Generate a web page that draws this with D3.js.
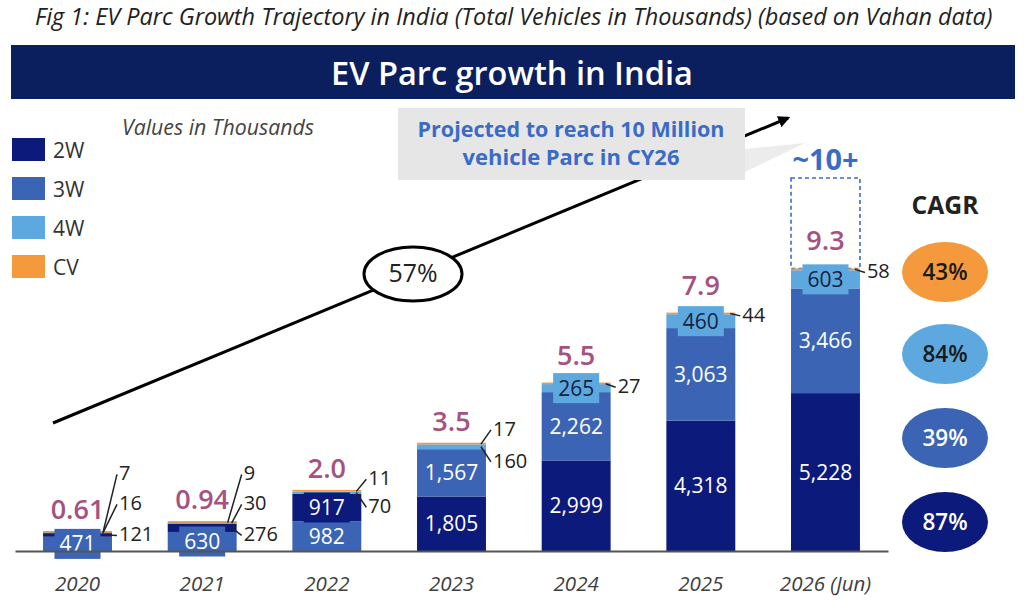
<!DOCTYPE html>
<html lang="en">
<head>
    <meta charset="utf-8">
    <title>EV Parc growth in India</title>
    <script type="text/javascript" src="https://d3js.org/d3.v7.min.js"></script>
    <style type="text/css">
        body { margin: 0; background: #fff; }
        text { font-family: "Open Sans", "Noto Sans", sans-serif; }
    </style>
</head>
<body>
<svg width="1024" height="603"></svg>
<script type="text/javascript">

    // data (thousands of vehicles)
    const years = ["2020", "2021", "2022", "2023", "2024", "2025", "2026 (Jun)"];
    const categories = ["2W", "3W", "4W", "CV"];
    const twoW   = [121, 276, 917, 1805, 2999, 4318, 5228];
    const threeW = [471, 630, 982, 1567, 2262, 3063, 3466];
    const fourW  = [16, 30, 70, 160, 265, 460, 603];
    const cv     = [7, 9, 11, 17, 27, 44, 58];
    const totalLabels = ["0.61", "0.94", "2.0", "3.5", "5.5", "7.9", "9.3"]; // millions
    const projectedLabel = "~10+";
    const projectedTop = 12350;
    const overallCagr = "57%";
    const cagrCats = ["CV", "4W", "3W", "2W"];
    const cagrValues = ["43%", "84%", "39%", "87%"];

    // which segment sits at the bottom changes after 2022
    const stackOrder = years.map((y, i) => i < 3 ? ["3W", "2W", "4W", "CV"] : ["2W", "3W", "4W", "CV"]);
    // segments whose value is written outside the bar
    const outsideCats = [["2W", "4W", "CV"], ["2W", "4W", "CV"], ["4W", "CV"], ["4W", "CV"], ["CV"], ["CV"], ["CV"]];
    const calloutDy   = [[9, -22, -52], [19, -12, -42], [22, -6], [24, -8], [10], [9], [10]];

    const seriesByCat = {"2W": twoW, "3W": threeW, "4W": fourW, "CV": cv};
    const colors = {"2W": "#0c1a7c", "3W": "#3b65b4", "4W": "#5ca8df", "CV": "#f4993c"};
    const labelInk = {"2W": "#fff", "3W": "#fff", "4W": "#15233f", "CV": "#222"};

    const svg = d3.select("svg");
    const fmt = d3.format(",");

    function fit(sel, w) {
        const cur = sel.node().getComputedTextLength();
        const fs = parseFloat(sel.attr("font-size"));
        sel.attr("font-size", fs * w / cur);
        return sel;
    }

    // caption + banner
    fit(svg.append("text").attr("x", 35).attr("y", 25)
        .attr("font-size", 19).attr("font-style", "italic").attr("fill", "#222")
        .text("Fig 1: EV Parc Growth Trajectory in India (Total Vehicles in Thousands) (based on Vahan data)"), 958);

    svg.append("rect").attr("x", 11).attr("y", 45).attr("width", 1004).attr("height", 54)
        .attr("fill", "#0b1f5e");
    fit(svg.append("text").attr("x", 512).attr("y", 85).attr("text-anchor", "middle")
        .attr("font-size", 31).attr("font-weight", 600).attr("fill", "#fff")
        .text("EV Parc growth in India"), 362);

    // legend
    const leg = svg.append("g").selectAll("g").data(categories).join("g")
        .attr("transform", (d, i) => `translate(12,${138 + i * 39})`);
    leg.append("rect").attr("width", 33).attr("height", 23).attr("fill", d => colors[d]);
    leg.append("text").attr("x", 41).attr("y", 20).attr("font-size", 21).attr("fill", "#333").text(d => d);

    fit(svg.append("text").attr("x", 122).attr("y", 135)
        .attr("font-size", 17).attr("font-style", "italic").attr("fill", "#444")
        .text("Values in Thousands"), 192);

    // scales
    const x = d3.scaleBand().domain(years).range([15, 888]).paddingInner(0.447).paddingOuter(0.225);
    const y = d3.scaleLinear().domain([0, 10000]).range([551, 249]);

    // trend arrow with overall CAGR
    svg.append("defs").append("marker").attr("id", "arr")
        .attr("viewBox", "0 0 10 10").attr("refX", 8).attr("refY", 5)
        .attr("markerWidth", 4).attr("markerHeight", 4).attr("orient", "auto")
        .append("path").attr("d", "M0,0L10,5L0,10z").attr("fill", "#000");
    svg.append("line").attr("x1", 53).attr("y1", 423).attr("x2", 788).attr("y2", 118)
        .attr("stroke", "#000").attr("stroke-width", 3).attr("marker-end", "url(#arr)");
    svg.append("ellipse").attr("cx", 413).attr("cy", 274).attr("rx", 49).attr("ry", 27)
        .attr("fill", "#fff").attr("stroke", "#000").attr("stroke-width", 3);
    fit(svg.append("text").attr("x", 413).attr("y", 282).attr("text-anchor", "middle")
        .attr("font-size", 22).attr("fill", "#222").text(overallCagr), 49);

    // callout box
    svg.append("path").attr("d", "M745,149L805,143L745,172Z").attr("fill", "#ececec");
    svg.append("rect").attr("x", 398).attr("y", 108).attr("width", 347).attr("height", 72).attr("fill", "#e6e6e6");
    fit(svg.append("text").attr("x", 571).attr("y", 137).attr("text-anchor", "middle")
        .attr("font-size", 19).attr("font-weight", 700).attr("fill", "#3a6cc6")
        .text("Projected to reach 10 Million"), 307);
    fit(svg.append("text").attr("x", 571).attr("y", 165).attr("text-anchor", "middle")
        .attr("font-size", 19).attr("font-weight", 700).attr("fill", "#3a6cc6")
        .text("vehicle Parc in CY26"), 217);

    // stacked segments
    const segs = years.flatMap((yr, i) => {
        let acc = 0;
        return stackOrder[i].map(cat => {
            const v = seriesByCat[cat][i];
            const s = {yr, i, cat, v, y0: acc, y1: acc + v};
            acc += v;
            return s;
        });
    });
    const totals = years.map((yr, i) => categories.reduce((s, c) => s + seriesByCat[c][i], 0));

    // projected dashed box on the last bar
    const last = years[years.length - 1];
    svg.append("rect").attr("x", x(last)).attr("y", y(projectedTop))
        .attr("width", x.bandwidth()).attr("height", y(totals[totals.length - 1]) - y(projectedTop))
        .attr("fill", "none").attr("stroke", "#3a6cc6").attr("stroke-width", 1.6).attr("stroke-dasharray", "4,3");
    fit(svg.append("text").attr("x", x(last) + x.bandwidth() / 2).attr("y", y(projectedTop) - 8)
        .attr("text-anchor", "middle").attr("font-size", 26).attr("font-weight", 700)
        .attr("fill", "#3a6cc6").text(projectedLabel), 66);

    svg.append("g").selectAll("rect").data(segs).join("rect")
        .attr("x", d => x(d.yr))
        .attr("y", d => Math.min(y(d.y1), y(d.y0) - 1.6))
        .attr("width", x.bandwidth())
        .attr("height", d => y(d.y0) - Math.min(y(d.y1), y(d.y0) - 1.6))
        .attr("fill", d => colors[d.cat]);

    // inside labels with backing boxes
    const inside = segs.filter(d => !outsideCats[d.i].includes(d.cat));
    const ig = svg.append("g").selectAll("g").data(inside).join("g")
        .attr("transform", d => `translate(${x(d.yr) + x.bandwidth() / 2},${(y(d.y0) + y(d.y1)) / 2})`);
    ig.append("rect").attr("fill", d => colors[d.cat]);
    ig.append("text").attr("text-anchor", "middle").attr("dy", "0.36em")
        .attr("font-size", 21).attr("fill", d => labelInk[d.cat]).text(d => fmt(d.v));
    ig.each(function () {
        const g = d3.select(this);
        const w = g.select("text").node().getComputedTextLength() + 10;
        g.select("rect").attr("x", -w / 2).attr("y", -15).attr("width", w).attr("height", 30);
    });

    // outside labels with leader lines
    const outside = segs.filter(d => outsideCats[d.i].includes(d.cat)).map(d => {
        const k = outsideCats[d.i].indexOf(d.cat);
        const right = x(d.yr) + x.bandwidth();
        const tx = right + 7;
        const ty = y(totals[d.i]) + calloutDy[d.i][k];
        return {d, right, tx, ty, my: (y(d.y0) + y(d.y1)) / 2};
    });
    const og = svg.append("g");
    og.selectAll("line").data(outside).join("line")
        .attr("x1", o => o.right - 5 - (o.ty < o.my - 20 ? 4 : 0)).attr("y1", o => o.my)
        .attr("x2", o => o.tx - 2).attr("y2", o => o.ty - 6)
        .attr("stroke", "#222").attr("stroke-width", 1.5);
    og.selectAll("text").data(outside).join("text")
        .attr("x", o => o.tx).attr("y", o => o.ty)
        .attr("font-size", 20).attr("fill", "#222").text(o => fmt(o.d.v));

    // totals in millions (lifted a little more where the 4W label box pokes above the bar)
    svg.append("g").selectAll("text").data(years).join("text")
        .attr("x", d => x(d) + x.bandwidth() / 2)
        .attr("y", (d, i) => y(totals[i]) - (outsideCats[i].includes("4W") ? 13 : 18))
        .attr("text-anchor", "middle").attr("font-size", 27).attr("font-weight", 600)
        .attr("fill", "#a5527f").text((d, i) => totalLabels[i]);

    // x axis
    const ax = svg.append("g").attr("transform", `translate(0,${y(0)})`)
        .call(d3.axisBottom(x).tickSize(0).tickSizeOuter(0).tickPadding(25));
    ax.select(".domain").attr("stroke", "#555").attr("stroke-width", 2);
    ax.selectAll("text").attr("font-size", 20.5).attr("font-style", "italic").attr("fill", "#404040")
        .attr("font-family", "'Open Sans', 'Noto Sans', sans-serif");

    // CAGR column
    fit(svg.append("text").attr("x", 945).attr("y", 214).attr("text-anchor", "middle")
        .attr("font-size", 22).attr("font-weight", 700).attr("fill", "#222").text("CAGR"), 67);
    const cg = svg.append("g").selectAll("g").data(cagrCats).join("g")
        .attr("transform", (d, i) => `translate(945,${[272, 354, 438, 522][i]})`);
    cg.append("ellipse").attr("rx", 43).attr("ry", 30).attr("fill", d => colors[d]);
    cg.append("text").attr("text-anchor", "middle").attr("dy", "0.36em")
        .attr("font-size", 22.5).attr("font-weight", 600)
        .attr("fill", d => d === "CV" || d === "4W" ? "#1a1a1a" : "#fff")
        .text((d, i) => cagrValues[i]);

</script>
</body>
</html>
